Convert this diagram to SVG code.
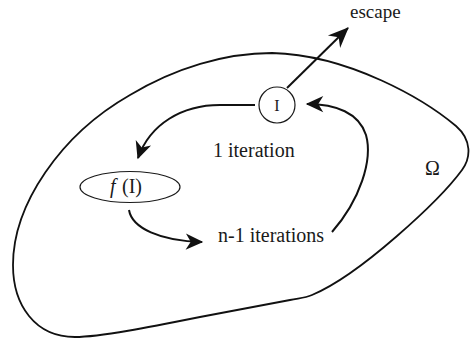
<svg xmlns="http://www.w3.org/2000/svg" width="470" height="340" viewBox="0 0 470 340">
  <style>
    .lbl { font-family: "Liberation Serif", "Times New Roman", serif; fill: #1a1a1a; }
    .node { fill: #ffffff; stroke: #1a1a1a; stroke-width: 1.2; }
    .conn { fill: none; stroke: #111111; stroke-width: 2; }
    .region { fill: none; stroke: #111111; stroke-width: 1.8; }
  </style>
  <defs>
    <marker id="arr" markerUnits="userSpaceOnUse" markerWidth="20" markerHeight="20" viewBox="-14 -8 16 16" refX="0" refY="0" orient="auto">
      <path d="M1,0 L-13,-6.5 L-9,0 L-13,6.5 Z" fill="#111111"/>
    </marker>
    <marker id="arrBig" markerUnits="userSpaceOnUse" markerWidth="24" markerHeight="24" viewBox="-20 -10 22 20" refX="0" refY="0" orient="auto">
      <path d="M1,0 L-18,-8 L-12,0 L-18,8 Z" fill="#111111"/>
    </marker>
  </defs>

  <g id="omega">
    <path class="region" d="M 272 53 C 350 55, 425 100, 456 126 C 472 140, 471 158, 462 170 C 440 200, 360 275, 312 295 C 305 298, 300 298, 290 300 L 200 317 C 150 327, 100 337, 75 337 C 35 337, 13 305, 13 265 C 13 205, 60 135, 130 95 C 175 68, 225 53, 272 53 Z"/>
    <text class="lbl" x="425" y="175" font-size="20">Ω</text>
  </g>

  <g id="connectors">
    <path class="conn" d="M 255 105 L 220 105 C 182 105, 150 124, 138 158" marker-end="url(#arr)"/>
    <path class="conn" d="M 129 210 C 132 228, 160 241, 202 242" marker-end="url(#arr)"/>
    <path class="conn" d="M 332 232 C 360 200, 373 160, 366 135 C 359 113, 336 104, 307 104" marker-end="url(#arr)"/>
    <path class="conn" d="M 287 88 L 348 28" stroke-width="2.6" marker-end="url(#arrBig)"/>
  </g>

  <g id="node-I">
    <circle class="node" cx="277" cy="105" r="18"/>
    <text class="lbl" x="277" y="111" font-size="16" text-anchor="middle">I</text>
  </g>

  <g id="node-fI">
    <ellipse class="node" cx="130" cy="187" rx="50" ry="15.5"/>
    <text class="lbl" x="110" y="193" font-size="20" font-style="italic">f</text>
    <text class="lbl" x="122" y="193" font-size="20">(I)</text>
  </g>

  <g id="labels">
    <text class="lbl" x="350" y="18" font-size="19">escape</text>
    <text class="lbl" x="213" y="157" font-size="20">1 iteration</text>
    <text class="lbl" x="218" y="242" font-size="20">n-1 iterations</text>
  </g>
</svg>
